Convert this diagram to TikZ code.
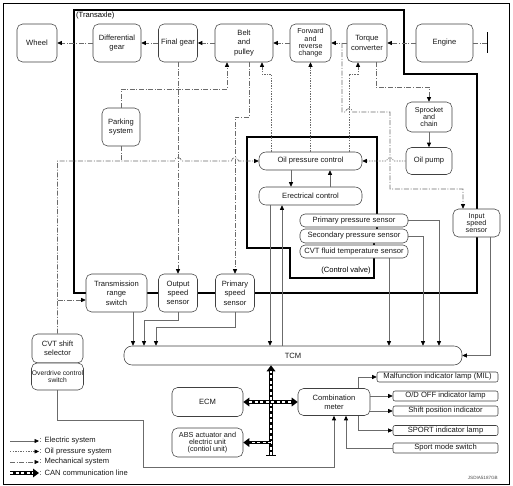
\documentclass[tikz,border=0pt]{standalone}
\usepackage{fontspec}
\setmainfont{Liberation Sans}
\usetikzlibrary{arrows.meta}
\newcommand\fsA{\fontsize{7.6}{9.3}\selectfont}
\newcommand\fsB{\fontsize{7.2}{7.3}\selectfont}
\newcommand\fsC{\fontsize{6.7}{7.7}\selectfont}
\newcommand\fsD{\fontsize{7.3}{6.9}\selectfont}
\newcommand\fsE{\fontsize{4.6}{5}\selectfont}
\tikzset{
  box/.style={draw=black!75, line width=0.55pt, fill=white, rounded corners=5.5pt, align=center, inner sep=0pt, font=\fsA, text=black!90},
  lamp/.style={box, rounded corners=2pt},
  wh/.style 2 args={minimum width=#1pt, minimum height=#2pt},
  thk/.style={line width=1.6pt, line join=miter, draw=black},
  elec/.style={draw=black!58, line width=0.6pt},
  oil/.style={draw=black!58, line width=0.6pt, dash pattern=on 1.3pt off 1.3pt},
  mech/.style={draw=black!58, line width=0.6pt, dash pattern=on 5pt off 1.6pt on 1pt off 1.6pt},
  canb/.style={draw=black, line width=3.4pt, -{Triangle[length=6pt,width=8.5pt]}},
  canbb/.style={draw=black, line width=3.4pt, {Triangle[length=6pt,width=8.5pt]}-{Triangle[length=6pt,width=8.5pt]}},
  canw/.style={draw=white, line width=1.2pt, dash pattern=on 3pt off 2.5pt, shorten >=6pt},
  canww/.style={draw=white, line width=1.2pt, dash pattern=on 3pt off 2.5pt, shorten >=6pt, shorten <=6pt},
  leg/.style={anchor=west, font=\fsA, inner sep=0.5pt, text=black!90}
}
\begin{document}
\begin{tikzpicture}[x=1pt,y=-1pt, >={Triangle[length=4.5pt,width=4pt,color=black]}]
\useasboundingbox (0,0) rectangle (513,486);
\draw[line width=0.8pt] (3,3) rectangle (509.5,484);

% thick outlines
\draw[thk] (74,10) -- (404,10) -- (404,74) -- (477,74) -- (477,293) -- (74,293) -- cycle;
\draw[thk] (377,230) -- (377,137) -- (247,137) -- (247,248) -- (290,248) -- (290,278) -- (374,278) -- (374,240);

\node[anchor=west, font=\fsA, inner sep=0pt] (tx) at (76,16) {(Transaxle)};
\node[font=\fsA, inner sep=0pt] (cv) at (346,271) {(Control valve)};

% nodes
\node[box, wh={40}{38}] (Wheel) at (37,43) {Wheel};
\node[box, wh={48}{38}] (Diff) at (117,43) {Differential\\gear};
\node[box, wh={39}{38}] (Final) at (178,43) {Final gear};
\node[box, wh={58}{38}] (Belt) at (244,43) {Belt\\and\\pulley};
\node[box, wh={41}{38}, font=\fsB] (Fwd) at (310.5,43) {Forward\\and\\reverse\\change};
\node[box, wh={40}{38}] (Torque) at (367,43) {Torque\\converter};
\node[box, wh={57}{38}] (Engine) at (444.5,43) {Engine};
\node[box, wh={38}{38}] (Park) at (121,127) {Parking\\system};
\node[box, wh={46}{30}, font=\fsB] (Spr) at (429,117) {Sprocket\\and\\chain};
\node[box, wh={46}{27}] (Pump) at (429,161) {Oil pump};
\node[box, wh={103}{18}, rounded corners=7pt] (OPC) at (310.5,161) {Oil pressure control};
\node[box, wh={103}{18}, rounded corners=7pt] (EC) at (310.5,196) {Erectrical control};
\node[box, wh={108}{13}, rounded corners=5pt] (PPS) at (354,220.5) {Primary pressure sensor};
\node[box, wh={108}{14}, rounded corners=5pt] (SPS) at (354,236) {Secondary pressure sensor};
\node[box, wh={108}{13}, rounded corners=5pt] (CVTT) at (354,251.5) {CVT fluid temperature sensor};
\node[box, wh={47}{28}, font=\fsB] (Input) at (476.5,223) {Input\\speed\\sensor};
\node[box, wh={61}{38}] (TRS) at (116.5,293) {Transmission\\range\\switch};
\node[box, wh={39}{38}] (OSS) at (178,293) {Output\\speed\\sensor};
\node[box, wh={39}{38}] (PSS) at (235,293) {Primary\\speed\\sensor};
\node[box, wh={338}{19}, rounded corners=8pt] (TCM) at (293,355.5) {TCM};
\node[box, wh={51}{29}] (Sel) at (57.5,348.5) {CVT shift\\selector};
\node[box, wh={52}{27}, font=\fsC] (OD) at (57.5,376.5) {Overdrive control\\switch};
\node[box, wh={71}{29}] (ECM) at (207.5,402) {ECM};
\node[box, wh={71}{29}, font=\fsD] (ABS) at (207.5,442.5) {ABS actuator and\\electric unit\\(contiol unit)};
\node[box, wh={72}{27}] (Comb) at (334,402) {Combination\\meter};
\node[lamp, wh={121}{10}] (MIL) at (437.5,377) {Malfunction indicator lamp (MIL)};
\node[lamp, wh={105}{10}] (ODL) at (445.5,396) {O/D OFF indicator lamp};
\node[lamp, wh={105}{10}] (SPI) at (445.5,411) {Shift position indicator};
\node[lamp, wh={105}{10}] (SPL) at (445.5,430.5) {SPORT indicator lamp};
\node[lamp, wh={105}{10}] (SMS) at (445.5,448) {Sport mode switch};

% helper coordinates
\coordinate (pb) at (227,89);
\coordinate (bp) at (249,117);
\coordinate (ts) at (376,87);
\coordinate (im0) at (342,43);
\coordinate (im1) at (342,112);
\coordinate (im2) at (390,189);
\coordinate (im3) at (463,189);
\coordinate (o1) at (271,74);
\coordinate (o1b) at (262,74);
\coordinate (o3) at (349,74);
\coordinate (o3b) at (358,74);
\coordinate (tr) at (57.5,300);
\coordinate (eEnd) at (487,43);
\coordinate (x133) at (133,0);
\coordinate (x144) at (144,0);
\coordinate (x156) at (156,0);
\coordinate (x270) at (270,0);
\coordinate (x282) at (282,0);
\coordinate (x291) at (291,0);
\coordinate (x330) at (330,0);
\coordinate (x389) at (389,0);
\coordinate (x423) at (423,0);
\coordinate (x439) at (439,0);
\coordinate (x490) at (490,0);
\coordinate (x346) at (346,0);
\coordinate (x358) at (358,0);
\coordinate (y320) at (0,320);
\coordinate (y327) at (0,327);
\coordinate (c1) at (143,420);
\coordinate (c2) at (143,467);
\coordinate (bus) at (271,455);

% mechanical
\draw[mech,->] (Diff) -- (Wheel);
\draw[mech,->] (Final) -- (Diff);
\draw[mech,->] (Belt) -- (Final);
\draw[mech,->] (Fwd) -- (Belt);
\draw[mech,->] (Torque) -- (Fwd);
\draw[mech,->] (Engine) -- (Torque);
\draw[mech] (Engine.east) -- (eEnd);
\draw[line width=0.8pt] ([yshift=10.5pt]eEnd) -- ([yshift=-10.5pt]eEnd);
\draw[mech,->] (Park.north) |- (pb) -- (pb |- Belt.south);
\draw[mech,->] (Final) -- (OSS);
\draw[mech,->] (Belt.south -| bp) -- (bp) -| (PSS.north);
\draw[mech,->] (Torque.south -| ts) -- (ts) -| (Spr.north);
\draw[elec,->] (Spr) -- (Pump);
\draw[mech,->] (im0) -- (im1) -- (345.5,112) .. controls (345.5,107.5) and (352.5,107.5) .. (352.5,112) -- (im2 |- im1) -- (im2) -- (im3) -- (im3 |- Input.north);
\draw[mech,->] (Sel.north) -- (Sel.north |- OPC.west) -- (174.5,161) .. controls (174.5,156.5) and (181.5,156.5) .. (181.5,161) -- (231.5,161) .. controls (231.5,156.5) and (238.5,156.5) .. (238.5,161) -- (OPC.west);
\draw[mech,->] (tr) -- (tr -| TRS.west);
\draw[mech] (Park.south) -- (Park.south |- OPC.west);

% oil pressure
\draw[oil,->] (OPC.north -| o1) -- (o1) -- (o1b) -- (o1b |- Belt.south);
\draw[oil,->] (OPC) -- (Fwd);
\draw[oil,->] (OPC.north -| o3) -- (o3) -- (o3b) -- (o3b |- Torque.south);
\draw[oil,->] (Pump.west) -- (393.5,161) .. controls (393.5,156.5) and (386.5,156.5) .. (386.5,161) -- (OPC.east);

% electric
\draw[elec,->] (OPC.south -| x291) -- (EC.north -| x291);
\draw[elec,->] (EC.north -| x330) -- (OPC.south -| x330);
\draw[elec,->] (EC.south -| x270) -- (TCM.north -| x270);
\draw[elec,->] (TCM.north -| x282) -- (EC.south -| x282);
\draw[elec,->] (CVTT.south -| x389) -- (TCM.north -| x389);
\draw[elec,->] (SPS.east) -| (TCM.north -| x423);
\draw[elec,->] (PPS.east) -| (TCM.north -| x439);
\draw[elec,->] (Input.south -| x490) |- (TCM.east);
\draw[elec,->] (TRS.south -| x133) -- (TCM.north -| x133);
\draw[elec,->] (OSS.south) -- (OSS.south |- y320) -| (TCM.north -| x144);
\draw[elec,->] (PSS.south) -- (PSS.south |- y327) -| (TCM.north -| x156);
\draw[elec,->] (OD.south) |- (c1) -- (c2) -| (Comb.south);
\draw[elec,->] (SMS.west) -| (Comb.south -| x346);
\draw[elec,->] (Comb.north -| x358) |- (MIL.west);
\draw[elec,->] (Comb.east |- ODL.west) -- (ODL.west);
\draw[elec,->] (Comb.east |- SPI.west) -- (SPI.west);
\draw[elec,->] (Comb.south -| x358) |- (SPL.west);

% CAN
\draw[canb] (bus) -- (bus |- TCM.south);
\draw[canw] (bus) -- (bus |- TCM.south);
\draw[canbb] (ECM.east) -- (Comb.west);
\draw[canww] (ECM.east) -- (Comb.west);
\draw[canb] (bus |- ABS.east) -- (ABS.east);
\draw[canw] (bus |- ABS.east) -- (ABS.east);
\draw[line width=0.6pt] ([xshift=-5pt]bus) -- ([xshift=5pt]bus);

% legend
\node[leg] (L1) at (39,441) {: Electric system};
\node[leg] (L2) at (39,451.5) {: Oil pressure system};
\node[leg] (L3) at (39,462) {: Mechanical system};
\node[leg] (L4) at (39,473) {: CAN communication line};
\draw[elec,->] ([xshift=-29pt]L1.west) -- (L1.west);
\draw[oil,->] ([xshift=-29pt]L2.west) -- (L2.west);
\draw[mech,->] ([xshift=-29pt]L3.west) -- (L3.west);
\draw[canb] ([xshift=-29pt]L4.west) -- (L4.west);
\draw[canw] ([xshift=-29pt]L4.west) -- (L4.west);

\node[anchor=east, font=\fsE, text=black!70, inner sep=0pt] (code) at (498,478) {JSDIA5187GB};
\end{tikzpicture}
\end{document}
